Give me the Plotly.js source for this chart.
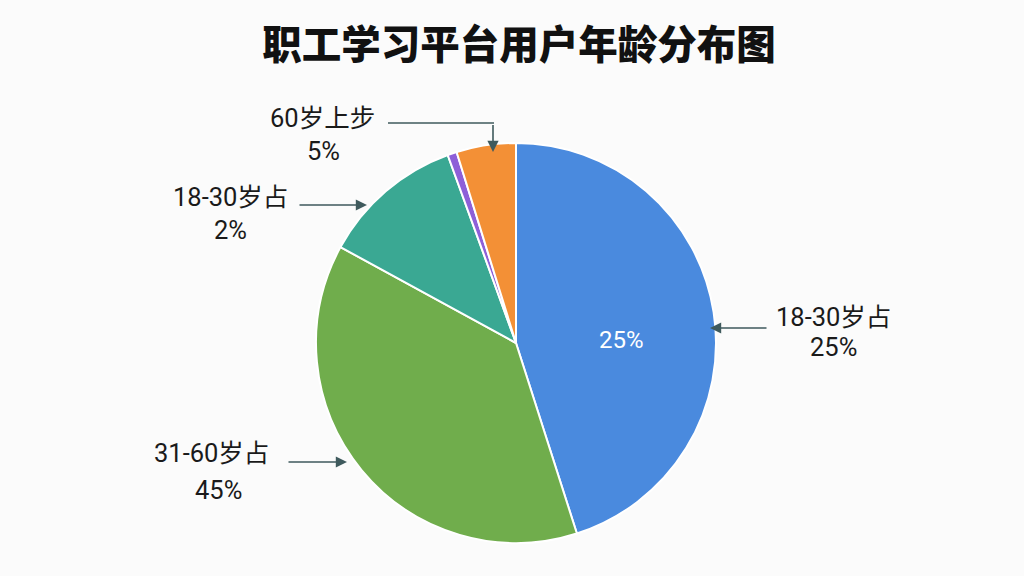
<!DOCTYPE html>
<html>
<head>
<meta charset="utf-8">
<script src="https://cdn.plot.ly/plotly-3.0.1.min.js"></script>
<style>
  html, body { margin: 0; padding: 0; background: #fbfbfb; }
  #age-pie { width: 1024px; height: 576px; }
</style>
</head>
<body>
<div id="age-pie"></div>
<script>
// slice sizes as drawn (share of the circle, %)
const ageGroups = ["18-30岁占", "31-60岁占", "18-30岁占", "其他", "60岁上步"];
const sliceValues = [45.1, 37.9, 11.5, 0.75, 4.8];
const sliceColors = ["#4a8ade", "#70ad4c", "#3aa893", "#8e5fd8", "#f39036"];

// text printed on the chart (does not match the slice sizes)
const labelNames = ["18-30岁占", "31-60岁占", "18-30岁占", "", "60岁上步"];
const labelPercents = ["25%", "45%", "2%", "", "5%"];
const insideText = ["25%", "", "", "", ""];

const W = 1024;
const H = 576;
const px = (x) => x / W;
const py = (y) => 1 - y / H;

document.addEventListener("DOMContentLoaded", () => {
  renderAgePie();
});

function renderAgePie() {
  const LABEL_FONT = {
    family: "Roboto, 'Noto Sans CJK SC', sans-serif",
    size: 25.5,
    color: "#1a1a1a",
  };
  const ARROW_COLOR = "#3f5a5d";

  // label placement: [name line center, percent line center]
  const labelSpots = [
    [[833, 317], [833, 347]],
    [[211, 453], [218, 490]],
    [[230, 197], [230, 230]],
    null,
    [[322, 118], [323, 151]],
  ];

  // arrows: [tail, head]
  const arrows = [
    [[768, 328], [710, 328]],
    [[287, 462], [347, 462]],
    [[298, 205], [367, 205]],
    null,
    [[493, 123], [493, 152]],
  ];

  const annotations = [];

  labelSpots.forEach((spot, i) => {
    if (!spot) return;
    annotations.push({
      xref: "paper", yref: "paper",
      x: px(spot[0][0]), y: py(spot[0][1]),
      text: labelNames[i],
      showarrow: false,
      font: LABEL_FONT,
      xanchor: "center", yanchor: "middle",
    });
    annotations.push({
      xref: "paper", yref: "paper",
      x: px(spot[1][0]), y: py(spot[1][1]),
      text: labelPercents[i],
      showarrow: false,
      font: LABEL_FONT,
      xanchor: "center", yanchor: "middle",
    });
  });

  arrows.forEach((arrow) => {
    if (!arrow) return;
    annotations.push({
      xref: "paper", yref: "paper",
      axref: "paper", ayref: "paper",
      x: px(arrow[1][0]), y: py(arrow[1][1]),
      ax: px(arrow[0][0]), ay: py(arrow[0][1]),
      text: " ",
      font: { size: 1 },
      showarrow: true,
      arrowhead: 2,
      arrowsize: 1.4,
      arrowwidth: 1.6,
      arrowcolor: ARROW_COLOR,
    });
  });

  annotations.push({
    xref: "paper", yref: "paper",
    x: px(621), y: py(340),
    text: insideText[0],
    showarrow: false,
    font: { ...LABEL_FONT, color: "#ffffff", size: 24 },
  });

  const trace = {
    type: "pie",
    labels: ageGroups.map((g, i) => g + " #" + i),
    values: sliceValues,
    sort: false,
    direction: "clockwise",
    rotation: 0,
    marker: { colors: sliceColors, line: { color: "#ffffff", width: 2 } },
    textinfo: "none",
    hoverinfo: "none",
    domain: { x: [px(316), px(716)], y: [py(543), py(143)] },
  };

  const layout = {
    width: W,
    height: H,
    margin: { t: 0, r: 0, b: 0, l: 0 },
    paper_bgcolor: "#fbfbfb",
    showlegend: false,
    title: {
      text: "职工学习平台用户年龄分布图",
      font: { family: "'Noto Sans CJK SC', sans-serif", size: 39.5, color: "#111111", weight: 900 },
      x: px(519),
      xanchor: "center",
      y: py(45),
      yanchor: "middle",
      yref: "container",
    },
    shapes: [
      {
        type: "line",
        xref: "paper", yref: "paper",
        x0: px(388), y0: py(123), x1: px(494), y1: py(123),
        line: { color: ARROW_COLOR, width: 1.6 },
      },
    ],
    annotations,
  };

  Plotly.newPlot("age-pie", [trace], layout, { displayModeBar: false, staticPlot: true });
}
</script>
</body>
</html>
